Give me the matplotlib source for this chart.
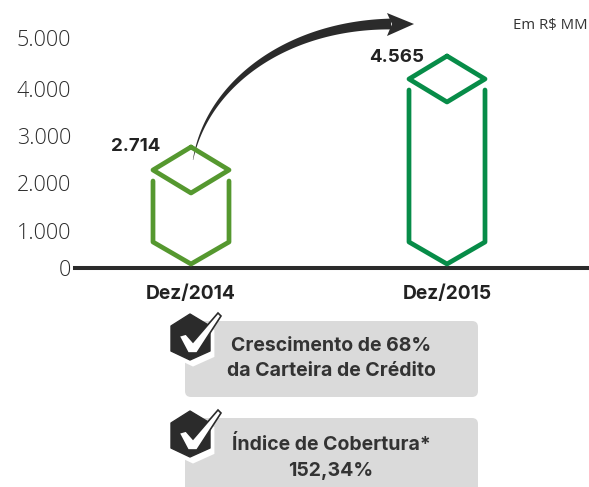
import numpy as np
import matplotlib
matplotlib.use('Agg')
import matplotlib.pyplot as plt
from matplotlib.patches import Polygon, FancyBboxPatch

plt.rcParams['font.family'] = ['Inter', 'DejaVu Sans']

categories = ['Dez/2014', 'Dez/2015']
values = [2714, 4565]
value_labels = ['2.714', '4.565']
bar_colors = ['#55982f', '#078c48']
yticks = [0, 1000, 2000, 3000, 4000, 5000]
ytick_labels = ['0', '1.000', '2.000', '3.000', '4.000', '5.000']
unit_label = 'Em R$ MM'
callouts = [['Crescimento de 68%', 'da Carteira de Crédito'],
            ['Índice de Cobertura*', '152,34%']]

# the printed axis is not even, so the scale follows it
scale_vals = [0, 1000, 2000, 2714, 3000, 4000, 4565, 5000, 6000]
scale_px = [0, 37, 85, 121, 132, 179, 212, 230, 270]

W, H = 589, 487
dark = '#2b2b2b'

fig = plt.figure(figsize=(W / 100, H / 100), dpi=100)

# chart axes, 0 sits on y=268 px, x 75..589 px
ax = fig.add_axes([75 / W, (H - 268) / H, (W - 75) / W, 268 / H])
ax.set_yscale('function', functions=(lambda v: np.interp(v, scale_vals, scale_px),
                                     lambda p: np.interp(p, scale_px, scale_vals)))
ax.set_ylim(0, 5950)
ax.set_xlim(-116 / 256, 1 + 142 / 256)
ax.patch.set_alpha(0)
ax.set_yticks(yticks)
ax.set_yticklabels(ytick_labels, fontsize=15.5, color='#2b2b2b', family=['Open Sans', 'DejaVu Sans'], fontweight='light')
ax.yaxis.set_minor_locator(plt.NullLocator())
ax.set_xticks(range(len(categories)))
ax.set_xticklabels(categories, fontsize=13.8, fontweight='bold', color='#222222')
ax.tick_params(axis='both', which='both', length=0)
ax.tick_params(axis='y', pad=3)
ax.tick_params(axis='x', pad=12)
for s in ['top', 'right', 'left']:
    ax.spines[s].set_visible(False)
ax.spines['bottom'].set_linewidth(2.9)
ax.spines['bottom'].set_color(dark)

# overlay in pixels for the drawn shapes
ov = fig.add_axes([0, 0, 1, 1], zorder=5)
ov.set_xlim(0, W)
ov.set_ylim(H, 0)
ov.axis('off')


def to_px(x, v):
    px = ax.transData.transform((x, v))
    return px[0], H - px[1]


# hexagonal columns
label_off = [(-55, -0.5), (-50, 1)]
for i, (v, c, lab) in enumerate(zip(values, bar_colors, value_labels)):
    cx, top = to_px(i, v)
    cx0, base = to_px(i, 0)
    hw = 38
    lw = 3.4
    ov.plot([cx, cx + hw, cx, cx - hw, cx], [top, top + 23, top + 46, top + 23, top],
            color=c, lw=lw, solid_joinstyle='round', solid_capstyle='round')
    ov.plot([cx - hw, cx - hw, cx, cx + hw, cx + hw],
            [top + 34, base - 26, base - 4, base - 26, top + 34],
            color=c, lw=lw, solid_joinstyle='round', solid_capstyle='round')
    ov.text(cx + label_off[i][0], top + label_off[i][1], lab, ha='center', va='center',
            fontsize=13.5, fontweight='bold', color='#222222')

ov.text(588, 26, unit_label, ha='right', va='center', fontsize=10.7, color='#333333',
        family=['Liberation Sans Narrow', 'Open Sans'])

# curved arrow, tapered
t = np.linspace(0, 1, 120)
p0, p1, p2, p3 = np.array([193, 160.]), np.array([207, 85.]), np.array([285, 25.]), np.array([391, 24.])
c = ((1 - t) ** 3)[:, None] * p0 + (3 * (1 - t) ** 2 * t)[:, None] * p1 + \
    (3 * (1 - t) * t ** 2)[:, None] * p2 + (t ** 3)[:, None] * p3
d = np.gradient(c, axis=0)
n = np.c_[-d[:, 1], d[:, 0]] / np.hypot(d[:, 0], d[:, 1])[:, None]
w = (0.3 + 10.5 * t ** 0.9)[:, None] / 2
shaft = np.vstack([c + n * w, (c - n * w)[::-1]])
ov.add_patch(Polygon(shaft, closed=True, fc=dark, ec='none'))
ov.add_patch(Polygon([(387, 13), (414, 24), (387, 36), (392, 24)], closed=True, fc=dark, ec='none'))

# callouts
box_tops = [321, 418]
box_h = [76, 90]
line_off = [(25, 50), (27, 53)]
hexagon = np.array([(190, 314), (210, 326), (210, 351), (190, 360), (171, 351), (171, 326)])
check = np.array([(179, 336), (186, 334), (193, 342), (218, 313), (221, 316), (197, 353), (188, 353)])
for top, bh, lines, off in zip(box_tops, box_h, callouts, line_off):
    dy = top - 321
    ov.add_patch(FancyBboxPatch((189, top + 4), 285, bh - 8, boxstyle='round,pad=4,rounding_size=6',
                                fc='#dadada', ec='none', zorder=1))
    ov.add_patch(Polygon(hexagon + (3, 5 + dy), closed=True, fc='white', ec='white', lw=2, zorder=2))
    ov.add_patch(Polygon(hexagon + (0, dy), closed=True, fc=dark, ec=dark, lw=1, joinstyle='round', zorder=3))
    ov.add_patch(Polygon(check + (0, dy), closed=True, fc='white', ec=dark, lw=1.2, joinstyle='miter', zorder=4))
    ov.text(331, top + off[0], lines[0], ha='center', va='center', fontsize=14, fontweight='bold', color='#333333')
    ov.text(331, top + off[1], lines[1], ha='center', va='center', fontsize=14, fontweight='bold', color='#333333')

plt.savefig('out.png', dpi=100)
print('done')
